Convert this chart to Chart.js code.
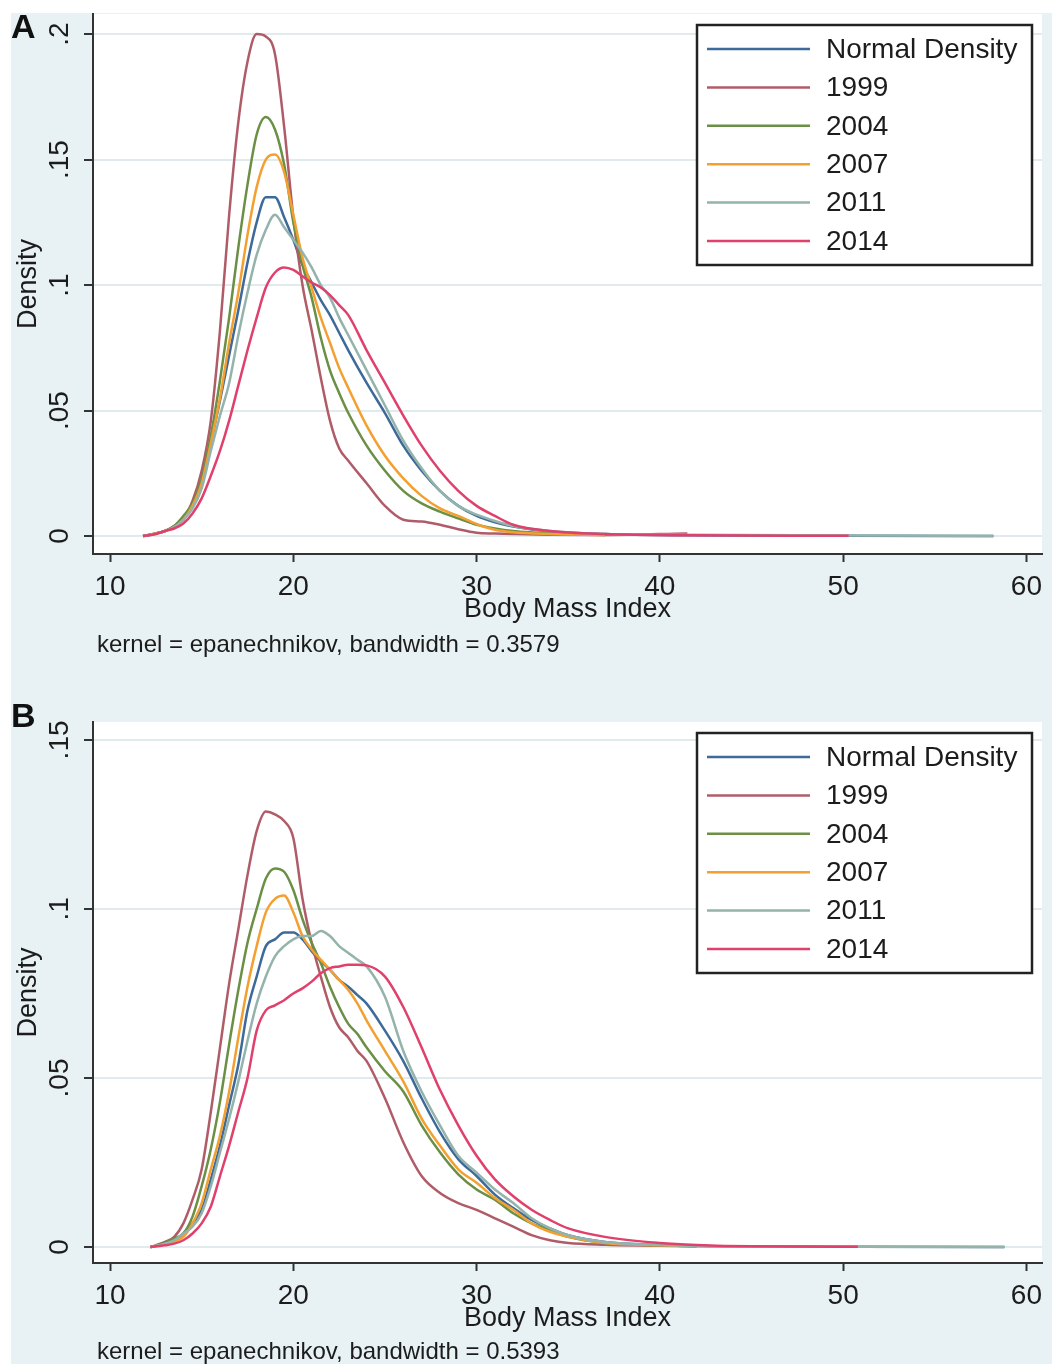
<!DOCTYPE html>
<html>
<head>
<meta charset="utf-8">
<script src="https://cdn.jsdelivr.net/npm/chart.js@4.4.1/dist/chart.umd.min.js"></script>
<style>
    body { margin: 0; background: #fff; }
    #page { position: relative; width: 1052px; height: 1364px; overflow: hidden; }
    #bg { position: absolute; left: 11px; top: 13px; width: 1041px; height: 1351px; background: #e8f1f3; }
    canvas { position: absolute; left: 0; }
    .tag { position: absolute; left: 11px; font: bold 34px "Liberation Sans", Arial, sans-serif; line-height: 34px; color: #111; }
    .note { position: absolute; left: 97px; font: 24px "Liberation Sans", Arial, sans-serif; line-height: 24px; color: #1c1c1c; }
</style>
</head>
<body>
<div id="page">
    <div id="bg"></div>
    <canvas id="chartA" width="1052" height="680" style="top:0px"></canvas>
    <canvas id="chartB" width="1052" height="684" style="top:680px"></canvas>
    <div class="tag" style="top:9px">A</div>
    <div class="tag" style="top:698px">B</div>
    <div class="note" style="top:632px">kernel = epanechnikov, bandwidth = 0.3579</div>
    <div class="note" style="top:1339px">kernel = epanechnikov, bandwidth = 0.5393</div>
</div>

<script>
// Kernel density of BMI by survey year (panel A and B)

const seriesNames = ['Normal Density', '1999', '2004', '2007', '2011', '2014'];
const seriesColors = ['#3e6a9a', '#b05c68', '#6a8f45', '#f4a030', '#93b3ab', '#e0406c'];

const xTicks = [10, 20, 30, 40, 50, 60];
const yTicksA = [0, 0.05, 0.1, 0.15, 0.2];
const yTicksB = [0, 0.05, 0.1, 0.15];

// Panel A
const bmiA = [11.8, 12.5, 13, 13.5, 14, 14.5, 15, 15.5, 16, 16.5, 17, 17.5, 18, 18.5, 19, 19.5, 20, 20.5, 21, 21.5, 22, 22.5, 23, 24, 25, 26, 27, 28, 29, 30, 31, 32, 34, 37, 41.5, 50.3, 58.2];
const normalA = [0, 0.001, 0.002, 0.0035, 0.0065, 0.012, 0.021, 0.037, 0.054, 0.072, 0.090, 0.109, 0.125, 0.135, 0.135, 0.127, 0.118, 0.108, 0.101, 0.094, 0.088, 0.081, 0.074, 0.061, 0.049, 0.036, 0.026, 0.018, 0.012, 0.008, 0.0055, 0.0038, 0.0018, 0.0008, 0.0003, 0.0001, 0];
const y1999A = [0, 0.001, 0.002, 0.004, 0.007, 0.014, 0.026, 0.046, 0.082, 0.128, 0.165, 0.189, 0.200, 0.199, 0.192, 0.163, 0.127, 0.100, 0.082, 0.063, 0.046, 0.035, 0.030, 0.021, 0.012, 0.0065, 0.0058, 0.0045, 0.0027, 0.0013, 0.001, 0.0008, 0.0005, 0.0004, 0.001, null, null];
const y2004A = [0, 0.001, 0.002, 0.004, 0.008, 0.013, 0.023, 0.040, 0.062, 0.087, 0.115, 0.140, 0.160, 0.167, 0.162, 0.148, 0.125, 0.108, 0.095, 0.079, 0.066, 0.057, 0.049, 0.036, 0.026, 0.018, 0.013, 0.0097, 0.007, 0.0045, 0.003, 0.002, 0.001, 0.0004, null, null, null];
const y2007A = [0, 0.001, 0.002, 0.0035, 0.0065, 0.012, 0.021, 0.037, 0.055, 0.077, 0.097, 0.120, 0.139, 0.150, 0.152, 0.145, 0.128, 0.111, 0.099, 0.087, 0.077, 0.067, 0.059, 0.044, 0.032, 0.023, 0.016, 0.011, 0.008, 0.0048, 0.0025, 0.0015, 0.0008, 0.0004, null, null, null];
const y2011A = [0, 0.0008, 0.002, 0.0035, 0.0065, 0.011, 0.019, 0.034, 0.048, 0.061, 0.080, 0.097, 0.112, 0.122, 0.128, 0.123, 0.118, 0.113, 0.107, 0.100, 0.095, 0.087, 0.080, 0.066, 0.052, 0.038, 0.027, 0.018, 0.012, 0.0085, 0.006, 0.004, 0.002, 0.0008, 0.0005, 0.0002, 0];
const y2014A = [0, 0.0008, 0.002, 0.003, 0.005, 0.009, 0.015, 0.024, 0.034, 0.046, 0.060, 0.074, 0.087, 0.099, 0.105, 0.107, 0.106, 0.1035, 0.101, 0.099, 0.096, 0.092, 0.088, 0.074, 0.061, 0.048, 0.036, 0.026, 0.018, 0.012, 0.008, 0.0045, 0.002, 0.0008, 0.0003, 0.0001, null];

// Panel B
const bmiB = [12.2, 12.5, 13, 13.5, 14, 14.5, 15, 15.5, 16, 16.5, 17, 17.5, 18, 18.5, 19, 19.5, 20, 20.5, 21, 21.5, 22, 22.5, 23, 23.5, 24, 25, 26, 27, 28, 29, 30, 31, 32, 33, 34, 35, 37, 40, 42, 45, 50.8, 58.8];
const normalB = [0, 0.0003, 0.001, 0.002, 0.004, 0.007, 0.011, 0.020, 0.030, 0.042, 0.054, 0.070, 0.080, 0.089, 0.091, 0.093, 0.093, 0.091, 0.0875, 0.0845, 0.082, 0.079, 0.077, 0.0745, 0.072, 0.064, 0.055, 0.044, 0.034, 0.026, 0.021, 0.0155, 0.0115, 0.008, 0.0055, 0.0035, 0.0015, 0.0006, 0.0003, 0.0002, 0.0001, 0];
const y1999B = [0, 0.0005, 0.0015, 0.003, 0.007, 0.014, 0.023, 0.040, 0.059, 0.078, 0.094, 0.110, 0.123, 0.1288, 0.128, 0.126, 0.121, 0.103, 0.090, 0.080, 0.071, 0.065, 0.062, 0.058, 0.055, 0.044, 0.031, 0.021, 0.016, 0.013, 0.011, 0.0085, 0.006, 0.0035, 0.002, 0.0012, 0.0007, 0.0004, 0.0002, null, null, null];
const y2004B = [0, 0.0004, 0.0013, 0.0025, 0.004, 0.009, 0.018, 0.029, 0.043, 0.060, 0.076, 0.090, 0.100, 0.109, 0.112, 0.111, 0.1056, 0.097, 0.090, 0.084, 0.077, 0.071, 0.066, 0.063, 0.059, 0.052, 0.046, 0.036, 0.028, 0.0215, 0.017, 0.014, 0.010, 0.007, 0.005, 0.003, 0.0012, 0.0005, 0.0002, null, null, null];
const y2007B = [0, 0.0003, 0.0008, 0.0015, 0.003, 0.007, 0.013, 0.023, 0.033, 0.046, 0.062, 0.077, 0.089, 0.099, 0.103, 0.104, 0.099, 0.092, 0.088, 0.085, 0.082, 0.079, 0.076, 0.072, 0.067, 0.058, 0.049, 0.038, 0.030, 0.023, 0.019, 0.0145, 0.011, 0.007, 0.0045, 0.003, 0.0012, 0.0005, 0.0002, null, null, null];
const y2011B = [0, 0.0003, 0.001, 0.002, 0.004, 0.006, 0.010, 0.018, 0.028, 0.038, 0.049, 0.061, 0.072, 0.080, 0.086, 0.089, 0.091, 0.092, 0.092, 0.0935, 0.092, 0.089, 0.087, 0.085, 0.083, 0.074, 0.058, 0.046, 0.036, 0.027, 0.022, 0.017, 0.013, 0.0085, 0.0055, 0.0035, 0.0015, 0.0006, 0.0003, 0.0002, 0.0001, 0];
const y2014B = [0, 0.0002, 0.0005, 0.001, 0.002, 0.004, 0.007, 0.012, 0.021, 0.030, 0.040, 0.050, 0.064, 0.070, 0.0715, 0.073, 0.075, 0.0765, 0.0785, 0.081, 0.0825, 0.083, 0.0835, 0.0835, 0.0833, 0.080, 0.071, 0.059, 0.0465, 0.036, 0.027, 0.020, 0.015, 0.011, 0.008, 0.0055, 0.003, 0.0012, 0.0006, 0.0002, 0.0001, null];

const FONT = '"Liberation Sans", Arial, sans-serif';
const TEXT = '#1c1c1c';
const AXIS = '#333';

Chart.defaults.font.family = FONT;
Chart.defaults.color = TEXT;

// white plot region on top of the light graph region
const plotBg = {
    id: 'plotBg',
    beforeDraw(chart) {
        const { ctx, chartArea: a } = chart;
        ctx.save();
        ctx.fillStyle = '#fff';
        ctx.fillRect(a.left, a.top, a.right - a.left, a.bottom - a.top);
        ctx.restore();
    }
};

// boxed legend in the top right corner of the plot
const boxLegend = {
    id: 'boxLegend',
    afterDraw(chart) {
        const { ctx, chartArea: a } = chart;
        const w = 335, h = 240;
        const x0 = a.right - 10 - w, y0 = a.top + 11;
        ctx.save();
        ctx.fillStyle = '#fff';
        ctx.fillRect(x0, y0, w, h);
        ctx.strokeStyle = '#222';
        ctx.lineWidth = 2.5;
        ctx.strokeRect(x0, y0, w, h);
        ctx.font = '28px ' + FONT;
        ctx.textBaseline = 'middle';
        chart.data.datasets.forEach((ds, i) => {
            const y = y0 + 24 + i * 38.4;
            ctx.strokeStyle = ds.borderColor;
            ctx.lineWidth = 2.5;
            ctx.beginPath();
            ctx.moveTo(x0 + 10, y);
            ctx.lineTo(x0 + 113, y);
            ctx.stroke();
            ctx.fillStyle = TEXT;
            ctx.fillText(ds.label, x0 + 129, y + 1);
        });
        ctx.restore();
    }
};

function fmtDensity(v) {
    if (v === 0) return '0';
    return String(+v.toFixed(2)).replace(/^0\./, '.');
}

function makeDatasets(bmi, lists) {
    return lists.map((vals, i) => ({
        label: seriesNames[i],
        data: bmi.map((x, j) => ({ x: x, y: vals[j] })),
        borderColor: seriesColors[i],
        borderWidth: 2.5,
        pointRadius: 0,
        fill: false,
        spanGaps: false,
        cubicInterpolationMode: 'monotone',
        order: lists.length - i
    }));
}

function renderPanel(canvasId, bmi, lists, yTicks, yMin, yMax, padTop, padBottom) {
    const ctx = document.getElementById(canvasId).getContext('2d');
    return new Chart(ctx, {
        type: 'line',
        data: { datasets: makeDatasets(bmi, lists) },
        options: {
            responsive: false,
            animation: false,
            devicePixelRatio: 1,
            layout: { padding: { left: 0, right: 10, top: padTop, bottom: padBottom } },
            plugins: { legend: { display: false }, tooltip: { enabled: false } },
            scales: {
                x: {
                    type: 'linear',
                    min: 9.07,
                    max: 60.85,
                    afterBuildTicks: s => { s.ticks = xTicks.map(v => ({ value: v })); },
                    afterFit: s => { s.height = 72; s.paddingLeft = 0; s.paddingRight = 0; },
                    grid: { drawOnChartArea: false, drawTicks: true, tickLength: 8, tickColor: AXIS, tickWidth: 2 },
                    border: { display: true, color: AXIS, width: 2 },
                    ticks: { autoSkip: false, maxRotation: 0, padding: 8, color: TEXT, font: { size: 28 } },
                    title: { display: true, text: 'Body Mass Index', color: TEXT, font: { size: 27 }, padding: 0 }
                },
                y: {
                    type: 'linear',
                    min: yMin,
                    max: yMax,
                    afterBuildTicks: s => { s.ticks = yTicks.map(v => ({ value: v })); },
                    afterFit: s => { s.width = 93; s.paddingTop = 0; s.paddingBottom = 0; },
                    grid: { color: '#e1ebee', lineWidth: 2, drawTicks: true, tickLength: 9, tickColor: AXIS, tickWidth: 2 },
                    border: { display: true, color: AXIS, width: 2 },
                    ticks: {
                        minRotation: 90, maxRotation: 90, crossAlign: 'center', padding: 4,
                        color: TEXT, font: { size: 28 },
                        callback: v => fmtDensity(v)
                    },
                    title: { display: true, text: 'Density', color: TEXT, font: { size: 27 }, padding: { top: 12, bottom: 0 } }
                }
            }
        },
        plugins: [plotBg, boxLegend]
    });
}

renderPanel('chartA', bmiA, [normalA, y1999A, y2004A, y2007A, y2011A, y2014A], yTicksA, -0.00717, 0.208, 14, 54);
renderPanel('chartB', bmiB, [normalB, y1999B, y2004B, y2007B, y2011B, y2014B], yTicksB, -0.00473, 0.1553, 42, 29);
</script>
</body>
</html>
